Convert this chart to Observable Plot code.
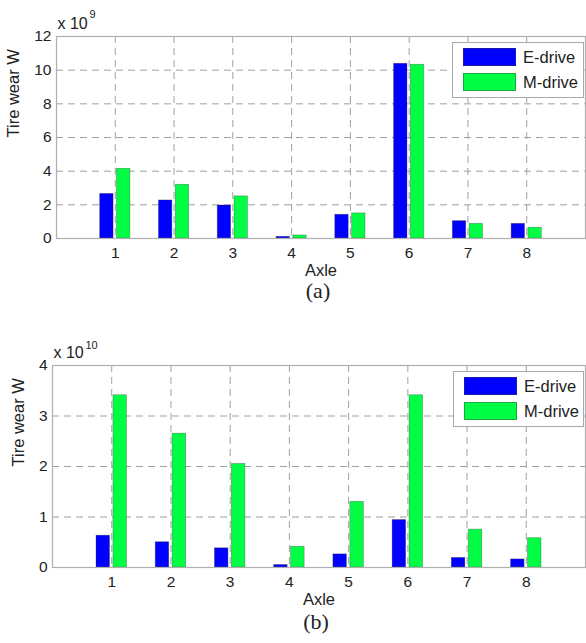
<!DOCTYPE html>
<html>
<head>
<meta charset="utf-8">
<script src="https://cdn.jsdelivr.net/npm/d3@7"></script>
<script src="https://cdn.jsdelivr.net/npm/@observablehq/plot@0.6"></script>
<style>
  body { margin: 0; background: #fff; font-family: "Liberation Sans", Arial, sans-serif; }
  #wrap { position: relative; width: 586px; height: 643px; overflow: hidden; background: #fff; }
  .panel { position: absolute; left: 0; width: 586px; }
  .panel svg { overflow: visible; display: block; }
  .legend { position: absolute; background: #fff; border: 1px solid #a8a8a8; box-sizing: border-box; }
  .legend .row { position: absolute; left: 0; height: 19px; width: 100%; }
  .legend .sw { position: absolute; left: 10px; top: 0; width: 53px; height: 18px; box-sizing: border-box; border: 1px solid rgba(60,60,60,0.45); }
  .legend .lb { position: absolute; left: 70px; top: 0; font-size: 16.5px; line-height: 18px; color: #222; font-family: "Liberation Sans", Arial, sans-serif; }
</style>
</head>
<body>
<div id="wrap"></div>
<script>
// ---- data ----
const axles = [1, 2, 3, 4, 5, 6, 7, 8];
const seriesNames = ["E-drive", "M-drive"];
const seriesColors = ["#0000ff", "#00ff44"];
// panel (a), units of 1e9
const eDriveA = [2.65, 2.26, 1.96, 0.10, 1.41, 10.38, 1.03, 0.87];
const mDriveA = [4.14, 3.19, 2.50, 0.18, 1.49, 10.32, 0.87, 0.64];
// panel (b), units of 1e10
const eDriveB = [0.63, 0.50, 0.38, 0.05, 0.26, 0.94, 0.19, 0.16];
const mDriveB = [3.41, 2.65, 2.05, 0.41, 1.30, 3.41, 0.75, 0.58];
const yTicksA = [0, 2, 4, 6, 8, 10, 12];
const yTicksB = [0, 1, 2, 3, 4];
const exponentA = "9";
const exponentB = "10";
const yLabel = "Tire wear W";
const xLabel = "Axle";
const captionA = "(a)";
const captionB = "(b)";

// grouped-bar geometry (MATLAB style, 2 series)
const offsets = [-0.143, 0.143];
const halfW = 0.114;

function buildRows(e, m) {
  const rows = [];
  axles.forEach((a, i) => {
    rows.push({axle: a, s: 0, value: e[i]});
    rows.push({axle: a, s: 1, value: m[i]});
  });
  return rows;
}

function makePanel(cfg) {
  const rows = buildRows(cfg.e, cfg.m);
  const plot = Plot.plot({
    width: 586,
    height: cfg.height,
    marginLeft: cfg.marginLeft,
    marginRight: 1,
    marginTop: cfg.marginTop,
    marginBottom: cfg.marginBottom,
    style: {fontFamily: "Liberation Sans, Arial, sans-serif", fontSize: "15px", color: "#222", background: "transparent"},
    x: {type: "linear", domain: [0, 9]},
    y: {type: "linear", domain: cfg.yDomain},
    marks: [
      Plot.gridY(cfg.yTicks.slice(1, -1), {stroke: "#a0a0a0", strokeOpacity: 1, strokeWidth: 1, strokeDasharray: "7,5"}),
      Plot.gridX(axles, {stroke: "#a0a0a0", strokeOpacity: 1, strokeWidth: 1, strokeDasharray: "7,5"}),
      Plot.rectY(rows, {
        x1: d => d.axle + offsets[d.s] - halfW,
        x2: d => d.axle + offsets[d.s] + halfW,
        y1: 0,
        y2: "value",
        fill: d => seriesColors[d.s],
        stroke: "#333",
        strokeOpacity: 0.45,
        strokeWidth: 0.7
      }),
      Plot.frame({stroke: "#b0b0b0", strokeWidth: 1.2}),
      Plot.axisY(cfg.yTicks, {tickSize: 0, tickPadding: 5, label: null, fontSize: 15.5, tickFormat: d => String(d)}),
      Plot.axisX(axles, {tickSize: 0, tickPadding: 8, label: null, fontSize: 15.5, tickFormat: d => String(d)}),
      Plot.text([xLabel], {text: d => d, frameAnchor: "bottom", dy: 37, fontSize: 16.5, fill: "#222"}),
      Plot.text([cfg.caption], {text: d => d, frameAnchor: "bottom", dy: cfg.captionDy, dx: -3, fontSize: 22, fontFamily: "Liberation Serif, Times New Roman, serif", fill: "#222"}),
      Plot.text([yLabel], {text: d => d, frameAnchor: "left", rotate: -90, dx: cfg.yLabelDx, fontSize: 16.5, fill: "#222"}),
      Plot.text(["x 10"], {text: d => d, frameAnchor: "top-left", textAnchor: "start", lineAnchor: "bottom", dx: 1, dy: cfg.expDy, fontSize: 16, fill: "#222"}),
      Plot.text([cfg.exponent], {text: d => d, frameAnchor: "top-left", textAnchor: "start", lineAnchor: "bottom", dx: cfg.supDx, dy: cfg.supDy, fontSize: 11, fill: "#222"})
    ]
  });
  const div = document.createElement("div");
  div.className = "panel";
  div.style.top = cfg.top + "px";
  div.style.height = cfg.height + "px";
  div.appendChild(plot);

  // legend box inside the axes (upper right)
  const lg = document.createElement("div");
  lg.className = "legend";
  lg.style.left = cfg.legend.left + "px";
  lg.style.top = cfg.legend.top + "px";
  lg.style.width = cfg.legend.width + "px";
  lg.style.height = cfg.legend.height + "px";
  seriesNames.forEach((name, i) => {
    const row = document.createElement("div");
    row.className = "row";
    row.style.top = (5 + i * 25) + "px";
    const sw = document.createElement("div");
    sw.className = "sw";
    sw.style.background = seriesColors[i];
    const lb = document.createElement("div");
    lb.className = "lb";
    lb.textContent = name;
    row.appendChild(sw);
    row.appendChild(lb);
    lg.appendChild(row);
  });
  div.appendChild(lg);
  document.getElementById("wrap").appendChild(div);
}

makePanel({
  top: 0, height: 320,
  e: eDriveA, m: mDriveA,
  yDomain: [0, 12], yTicks: yTicksA,
  marginLeft: 56, marginTop: 36, marginBottom: 82,
  caption: captionA, captionDy: 59,
  yLabelDx: -43,
  exponent: exponentA, expDy: -8, supDx: 33, supDy: -19,
  legend: {left: 452, top: 42, width: 132, height: 56}
});

makePanel({
  top: 320, height: 323,
  e: eDriveB, m: mDriveB,
  yDomain: [0, 4], yTicks: yTicksB,
  marginLeft: 52, marginTop: 45, marginBottom: 76,
  caption: captionB, captionDy: 61,
  yLabelDx: -34,
  exponent: exponentB, expDy: -8, supDx: 33, supDy: -17,
  legend: {left: 453, top: 51, width: 131, height: 56}
});
</script>
</body>
</html>
